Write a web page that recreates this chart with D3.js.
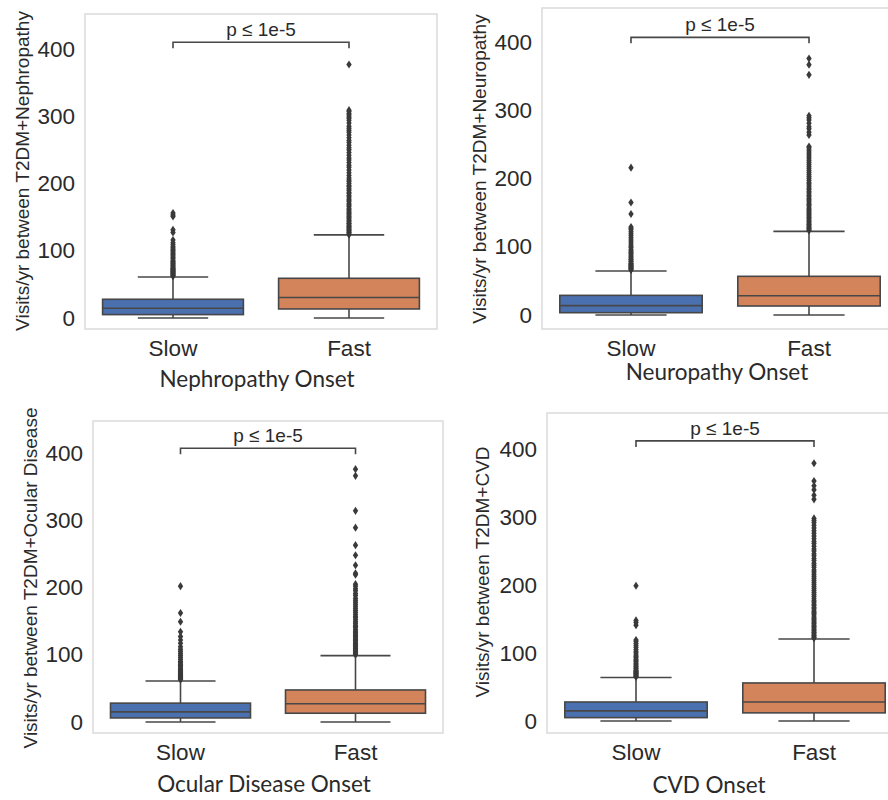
<!DOCTYPE html>
<html>
<head>
<meta charset="utf-8">
<script src="https://cdn.jsdelivr.net/npm/d3@7"></script>
<style>
  body { margin: 0; background: #fff; }
  svg { display: block; }
</style>
</head>
<body>
<div id="chart"></div>
<script>
// categories on each x axis
const groups = ["Slow", "Fast"];
const yTickValues = [0, 100, 200, 300, 400];
const pLabel = "p \u2264 1e-5";

const yLabels = [
    "Visits/yr between T2DM+Nephropathy",
    "Visits/yr between T2DM+Neuropathy",
    "Visits/yr between T2DM+Ocular Disease",
    "Visits/yr between T2DM+CVD"
];
const xTitles = ["Nephropathy Onset", "Neuropathy Onset", "Ocular Disease Onset", "CVD Onset"];

// box stats: [whisker low, q1, median, q3, whisker high]
const slowStats = [
    [0, 5, 14.5, 27.8, 61],
    [0, 3.4, 13.7, 28.8, 64.5],
    [0, 6, 15, 28, 61],
    [0, 5, 15, 28, 64]
];
const fastStats = [
    [0, 13.4, 30.5, 59, 123.5],
    [0, 13.2, 28.3, 56.7, 122.6],
    [0, 13, 27, 47.6, 98.6],
    [0, 12, 28, 56, 120.6]
];

// outliers (fliers)
const slowOutliers = [
    [62, 63, 64, 65, 66, 67, 68, 69, 70, 71, 72, 73, 74, 75, 77, 78, 80, 81, 83, 84, 86, 88, 90, 92, 94, 96, 98, 100, 102, 104, 106, 109, 112, 116, 127, 131, 151, 153, 156],
    [66, 67, 68, 69, 70, 71, 72, 73, 74, 75, 76, 78, 79, 81, 82, 84, 86, 88, 90, 92, 94, 96, 99, 101, 104, 107, 110, 113, 116, 119, 122, 125, 127, 129, 148, 165, 216],
    [63, 64, 65, 66, 67, 68, 69, 70, 71, 72, 74, 75, 77, 78, 80, 82, 84, 86, 88, 90, 93, 96, 99, 102, 105, 108, 112, 117, 122, 127, 134, 149, 162, 202],
    [65, 66, 67, 68, 69, 70, 71, 72, 73, 74, 75, 77, 78, 80, 81, 83, 85, 87, 89, 91, 93, 95, 97, 100, 102, 105, 108, 111, 114, 117, 119, 141, 145, 148, 199]
];
const fastOutliers = [
    [124, 125, 127, 128, 130, 131, 133, 135, 136, 138, 140, 141, 143, 145, 147, 149, 151, 153, 155, 157, 159, 161, 163, 166, 168, 170, 173, 175, 177, 180, 182, 185, 187, 190, 192, 195, 197, 200, 203, 205, 208,
     212, 216, 220, 224, 227, 231, 235, 238, 242, 246, 250, 253, 257, 261, 264, 268, 272, 276, 279, 282, 285, 290, 294, 297, 299, 302, 304, 307, 309, 377],
    [124, 125, 127, 128, 130, 132, 133, 135, 137, 139, 141, 143, 145, 147, 149, 151, 153, 155, 157, 160, 162, 164, 167, 169, 171, 174, 176, 179, 181, 184, 186, 189, 192, 194, 197, 200, 203, 206, 209, 212, 215, 218, 221, 224, 227, 230, 233, 236, 239, 242, 245, 247,
     264, 268, 273, 276, 281, 286, 289, 292, 352, 367, 376],
    [100, 101, 103, 104, 106, 107, 109, 110, 112, 114, 115, 117, 119, 121, 123, 125, 127, 129, 131, 133, 135, 137, 140, 142, 144, 147, 149, 152, 155, 157, 160, 163, 166, 169, 172, 175, 178, 181, 184, 188, 191, 195, 198, 202, 205,
     219, 221, 233, 248, 263, 289, 314, 366, 376],
    [122, 123, 125, 126, 128, 130, 131, 133, 135, 137, 139, 141, 143, 145, 147, 149, 151, 153, 156, 158, 160, 162, 165, 167, 170, 172, 175, 177, 180, 183, 186, 189, 192, 195, 198, 201, 204, 207, 210, 213, 216, 219, 222, 226, 229, 232, 236, 239, 243, 246, 250, 253, 257, 261, 264, 268, 272, 276, 280, 284, 288, 292, 295, 298,
     326, 332, 340, 346, 353, 379]
];
const bracketLevel = [410, 407, 407, 412];
const yDomains = [[-16.4, 452], [-20.5, 450], [-16.4, 447.6], [-17.6, 453]];

// layout of the four panels (pixels)
const panels = [
    { x: 85,  y: 14,  w: 352, h: 315, ylx: 29,  yly: 171, tx: 257, ty: 387 },
    { x: 542, y: 8,   w: 356, h: 321, ylx: 486, yly: 169, tx: 717, ty: 380 },
    { x: 93,  y: 421, w: 350, h: 312, ylx: 37,  yly: 578, tx: 264, ty: 792 },
    { x: 547, y: 413, w: 356, h: 320, ylx: 489, yly: 572, tx: 709, ty: 793 }
];

const colors = { Slow: "#4a70b0", Fast: "#d4845a" };
const lineColor = "#474747";
const textColor = "#2a2a2a";
const armFont = "'Liberation Sans', Arial, sans-serif";

const svg = d3.select("#chart").append("svg")
    .attr("width", 888)
    .attr("height", 800);

svg.append("rect").attr("width", 888).attr("height", 800).attr("fill", "#fff");

const diamond = d3.symbol().type(d3.symbolDiamond).size(19);

panels.forEach(function(p, i) {
    const g = svg.append("g");

    const x = d3.scaleBand().domain(groups).range([p.x, p.x + p.w]);
    const y = d3.scaleLinear().domain(yDomains[i]).range([p.y + p.h, p.y]);
    const bw = x.bandwidth() * 0.8;

    // frame
    g.append("rect")
        .attr("x", p.x).attr("y", p.y)
        .attr("width", p.w).attr("height", p.h)
        .attr("fill", "none")
        .attr("stroke", "#dadada")
        .attr("stroke-width", 1.5);

    // y axis
    const yAxis = g.append("g")
        .attr("transform", "translate(" + p.x + ",0)")
        .call(d3.axisLeft(y).tickValues(yTickValues).tickSize(0).tickPadding(10));
    yAxis.select(".domain").remove();
    yAxis.selectAll("text")
        .attr("font-family", armFont)
        .attr("font-size", 22.5)
        .attr("fill", textColor);

    // x axis
    const xAxis = g.append("g")
        .attr("transform", "translate(0," + (p.y + p.h) + ")")
        .call(d3.axisBottom(x).tickSize(0).tickPadding(11));
    xAxis.select(".domain").remove();
    xAxis.selectAll("text")
        .attr("font-family", armFont)
        .attr("font-size", 22.5)
        .attr("fill", textColor);

    const stats = { Slow: slowStats[i], Fast: fastStats[i] };
    const fliers = { Slow: slowOutliers[i], Fast: fastOutliers[i] };

    groups.forEach(function(grp) {
        const s = stats[grp];
        const cx = x(grp) + x.bandwidth() / 2;
        const bg = g.append("g")
            .attr("stroke", lineColor)
            .attr("stroke-width", 1.6);

        // whiskers
        bg.append("line").attr("x1", cx).attr("x2", cx).attr("y1", y(s[0])).attr("y2", y(s[1]));
        bg.append("line").attr("x1", cx).attr("x2", cx).attr("y1", y(s[3])).attr("y2", y(s[4]));
        bg.append("line").attr("x1", cx - bw / 4).attr("x2", cx + bw / 4).attr("y1", y(s[0])).attr("y2", y(s[0]));
        bg.append("line").attr("x1", cx - bw / 4).attr("x2", cx + bw / 4).attr("y1", y(s[4])).attr("y2", y(s[4]));

        // box
        bg.append("rect")
            .attr("x", cx - bw / 2)
            .attr("y", y(s[3]))
            .attr("width", bw)
            .attr("height", y(s[1]) - y(s[3]))
            .attr("fill", colors[grp]);
        bg.append("line").attr("x1", cx - bw / 2).attr("x2", cx + bw / 2).attr("y1", y(s[2])).attr("y2", y(s[2]));

        // outliers
        g.append("g").selectAll("path")
            .data(fliers[grp])
            .enter().append("path")
            .attr("d", diamond)
            .attr("transform", function(d) { return "translate(" + cx + "," + y(d) + ")scale(1.15,1)"; })
            .attr("fill", "#3a3a3a");
    });

    // significance bracket
    const xa = x("Slow") + x.bandwidth() / 2;
    const xb = x("Fast") + x.bandwidth() / 2;
    const by = y(bracketLevel[i]);
    g.append("path")
        .attr("d", "M" + xa + "," + (by + 6) + "V" + by + "H" + xb + "V" + (by + 6))
        .attr("fill", "none")
        .attr("stroke", lineColor)
        .attr("stroke-width", 1.6);
    g.append("text")
        .attr("x", (xa + xb) / 2)
        .attr("y", by - 6)
        .attr("text-anchor", "middle")
        .attr("font-family", armFont)
        .attr("font-size", 19)
        .attr("fill", textColor)
        .text(pLabel);

    // axis titles
    g.append("text")
        .attr("transform", "translate(" + p.ylx + "," + p.yly + ")rotate(-90)")
        .attr("text-anchor", "middle")
        .attr("font-family", armFont)
        .attr("font-size", 19)
        .attr("fill", textColor)
        .text(yLabels[i]);
    g.append("text")
        .attr("x", p.tx)
        .attr("y", p.ty)
        .attr("text-anchor", "middle")
        .attr("font-family", "Lato, 'Open Sans', sans-serif")
        .attr("font-size", 22.5)
        .attr("fill", textColor)
        .text(xTitles[i]);
});
</script>
</body>
</html>
